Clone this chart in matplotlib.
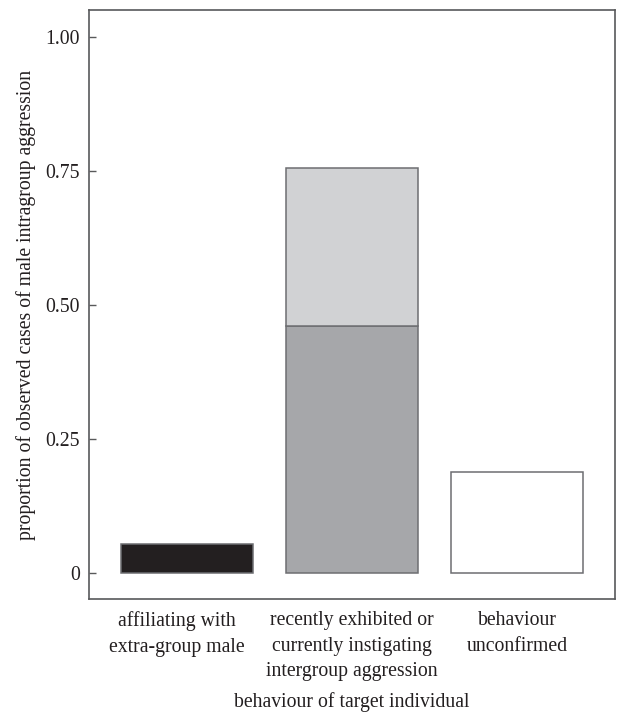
import matplotlib
matplotlib.use("Agg")
import matplotlib.pyplot as plt
from matplotlib.transforms import ScaledTranslation

categories = ["affiliating with\nextra-group male",
              "recently exhibited or\ncurrently instigating\nintergroup aggression",
              "behaviour\nunconfirmed"]
lower_values = [0.054, 0.460, 0.188]
upper_values = [0.0, 0.296, 0.0]
lower_colors = ["#231f20", "#a6a7aa", "#ffffff"]
upper_color = "#d1d2d4"
ytick_values = [0, 0.25, 0.50, 0.75, 1.00]
ytick_labels = ["0", "0.25", "0.50", "0.75", "1.00"]

plt.rcParams['font.family'] = ['Liberation Serif', 'DejaVu Serif']
plt.rcParams['font.size'] = 14.2
plt.rcParams['text.color'] = '#231f20'
plt.rcParams['xtick.color'] = '#231f20'
plt.rcParams['ytick.color'] = '#231f20'
plt.rcParams['axes.labelcolor'] = '#231f20'

fig = plt.figure(figsize=(6.19, 7.13), dpi=100)
ax = fig.add_axes([0.1438, 0.160, 0.8497, 0.826])

x = list(range(len(categories)))
edge = "#6d6e71"
ax.bar(x, lower_values, width=0.8, color=lower_colors, edgecolor=edge, linewidth=1.1)
for xi, lo, up in zip(x, lower_values, upper_values):
    if up > 0:
        ax.bar(xi, up, bottom=lo, width=0.8, color=upper_color, edgecolor=edge, linewidth=1.1)

ax.set_xlim(-0.594, 2.594)
ax.set_ylim(-0.049, 1.05)
ax.set_yticks(ytick_values)
ax.set_yticklabels(ytick_labels)
ax.set_xticks(x)
ax.set_xticklabels(categories, linespacing=1.45)
ax.tick_params(axis='x', length=0, pad=9)
ax.tick_params(axis='y', direction='in', length=5, width=1, color="#58595b", pad=6.5)
for s in ax.spines.values():
    s.set_color("#58595b")
    s.set_linewidth(1.2)

lbl = ax.get_xticklabels()[0]
lbl.set_transform(lbl.get_transform() + ScaledTranslation(-0.10, 0, fig.dpi_scale_trans))

ax.set_ylabel("proportion of observed cases of male intragroup aggression", labelpad=7)
fig.text(0.5 * (0.1438 + 0.9935), 1 - 702 / 713, "behaviour of target individual",
         ha='center', va='center', fontsize=14.2)

fig.savefig("out.png", dpi=100)
